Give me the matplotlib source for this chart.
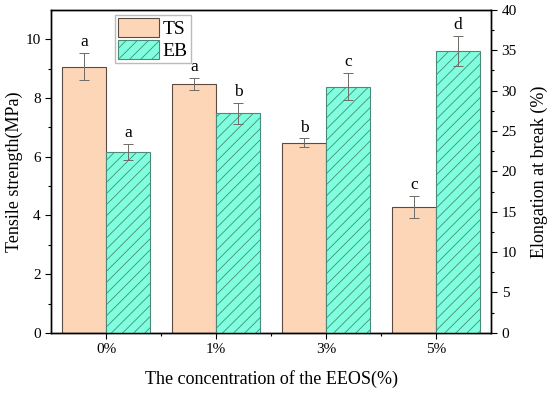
import numpy as np
import matplotlib.pyplot as plt

plt.rcParams['font.family'] = ['Liberation Serif', 'DejaVu Serif']
plt.rcParams['hatch.linewidth'] = 0.6

# data
categories = ['0%', '1%', '3%', '5%']
ts_mean = [9.07, 8.47, 6.47, 4.28]
ts_err = [0.45, 0.21, 0.15, 0.37]
ts_letters = ['a', 'a', 'b', 'c']
eb_mean = [22.4, 27.2, 30.5, 34.9]
eb_err = [1.0, 1.3, 1.65, 1.9]
eb_letters = ['a', 'b', 'c', 'd']

x = np.arange(len(categories))
w = 0.4

fig, ax1 = plt.subplots(figsize=(5.5, 3.93), dpi=100)
fig.subplots_adjust(left=0.093, right=0.893, top=0.975, bottom=0.153)
ax2 = ax1.twinx()

b1 = ax1.bar(x - w / 2, ts_mean, w, color='#FDD6B8', edgecolor='#5a4a42', linewidth=0.8,
             label='TS', zorder=2)
ax1.errorbar(x - w / 2, ts_mean, yerr=ts_err, fmt='none', ecolor='#6e6a66', elinewidth=0.7,
             capsize=3.5, capthick=0.7, zorder=3)

b2 = ax2.bar(x + w / 2, eb_mean, w, color='#80FFDE', edgecolor='#4a8a7a', linewidth=0.8,
             hatch='///', label='EB', zorder=2)
ax2.errorbar(x + w / 2, eb_mean, yerr=eb_err, fmt='none', ecolor='#6e6a66', elinewidth=0.7,
             capsize=3.5, capthick=0.7, zorder=3)

for xi, m, e, t in zip(x, ts_mean, ts_err, ts_letters):
    ax1.text(xi - w / 2, m + e + 0.1, t, ha='center', va='bottom', fontsize=12.5)
for xi, m, e, t in zip(x, eb_mean, eb_err, eb_letters):
    ax2.text(xi + w / 2, m + e + 0.35, t, ha='center', va='bottom', fontsize=12.5)

ax1.set_xlim(-0.5, 3.5)
ax1.set_ylim(0, 11)
ax2.set_ylim(0, 40)
ax1.set_xticks(x)
ax1.set_xticklabels(categories)
ax1.set_xticks(x[:-1] + 0.5, minor=True)
ax1.set_yticks(np.arange(0, 11, 2))
ax1.set_yticks(np.arange(1, 11, 2), minor=True)
ax2.set_yticks(np.arange(0, 41, 5))
ax2.set_yticks(np.arange(2.5, 40, 5), minor=True)

for a in (ax1, ax2):
    a.tick_params(which='major', direction='out', length=4, width=0.8, labelsize=11)
    a.tick_params(which='minor', direction='out', length=2.5, width=0.8)
    for s in a.spines.values():
        s.set_linewidth(1.0)

ax1.set_xlabel('The concentration of the EEOS(%)', fontsize=13, labelpad=10)
ax1.set_ylabel('Tensile strength(MPa)', fontsize=13, labelpad=2)
ax2.set_ylabel('Elongation at break (%)', fontsize=13, labelpad=10)

ax1.legend([b1, b2], ['TS', 'EB'], loc='upper left', bbox_to_anchor=(0.136, 0.995),
           fontsize=14, frameon=True, fancybox=False, edgecolor='#aaaaaa',
           handlelength=2.1, handleheight=1.1, handletextpad=0.2, labelspacing=0.1,
           borderpad=0.15, borderaxespad=0.2)

fig.savefig('out.png', dpi=100)
